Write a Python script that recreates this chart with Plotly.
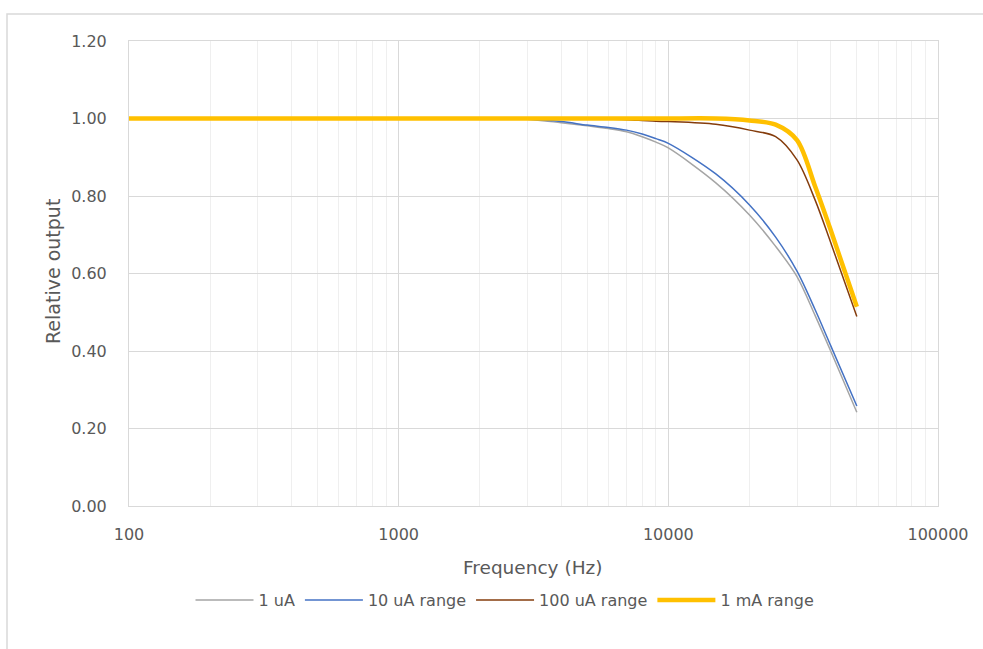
import plotly.graph_objects as go

freq = [100, 200, 500, 1000, 2000, 3000, 4000, 5000, 6000, 7000, 8000, 9000, 10000,
        15000, 20000, 25000, 30000, 35000, 40000, 50000]
ua1 = [1, 1, 1, 1, 1, 0.998, 0.989, 0.981, 0.974, 0.966, 0.953, 0.939, 0.924,
       0.834, 0.751, 0.670, 0.592, 0.492, 0.400, 0.242]
ua10 = [1, 1, 1, 1, 1, 0.998, 0.992, 0.983, 0.977, 0.970, 0.960, 0.948, 0.936,
        0.857, 0.777, 0.694, 0.606, 0.507, 0.414, 0.258]
ua100 = [1, 1, 1, 1, 1, 1, 1, 0.999, 0.998, 0.997, 0.995, 0.993, 0.992,
         0.985, 0.970, 0.953, 0.893, 0.790, 0.680, 0.489]
ma1 = [1, 1, 1, 1, 1, 1, 1, 1, 1, 1, 1, 1, 1,
       1.0, 0.995, 0.984, 0.944, 0.825, 0.712, 0.514]

series_names = ["1 uA", "10 uA range", "100 uA range", "1 mA range"]
x_tickvals = [100, 1000, 10000, 100000]
x_ticktext = ["100", "1000", "10000", "100000"]
y_tickvals = [0, 0.2, 0.4, 0.6, 0.8, 1.0, 1.2]

FONT = "DejaVu Sans"
TXT = "#595959"

fig = go.Figure()
styles = [("#A5A5A5", 1.5), ("#4472C4", 1.5), ("#843C0C", 1.5), ("#FFC000", 4.5)]
for name, ys, (c, w) in zip(series_names, [ua1, ua10, ua100, ma1], styles):
    fig.add_trace(go.Scatter(x=freq, y=ys, name=name, mode="lines",
                             line=dict(color=c, width=w, shape="spline", smoothing=0.9)))

L, R, T, B = 129, 938, 41, 506
W, H = 983, 649

fig.update_layout(
    width=W, height=H,
    margin=dict(l=L, r=W - R, t=T, b=H - B, pad=0),
    paper_bgcolor="white", plot_bgcolor="white",
    font=dict(family=FONT, size=16, color=TXT),
    showlegend=True,
    legend=dict(orientation="h", x=(505 - L) / (R - L), xanchor="center",
                y=(B - 600) / (B - T), yanchor="middle", itemwidth=58,
                font=dict(family=FONT, size=16, color=TXT), traceorder="normal"),
    xaxis=dict(type="log", range=[2, 5], tickvals=x_tickvals, ticktext=x_ticktext,
               showgrid=True, gridcolor="#D9D9D9", gridwidth=1,
               minor=dict(showgrid=True, gridcolor="#EFEFEF", gridwidth=1, dtick="D1", ticks=""),
               ticks="outside", ticklen=14, tickcolor="rgba(0,0,0,0)",
               showline=True, linecolor="#D9D9D9", mirror=True, zeroline=False,
               tickfont=dict(family=FONT, size=16, color=TXT)),
    yaxis=dict(range=[0, 1.2], tickvals=y_tickvals, tickformat=".2f",
               showgrid=True, gridcolor="#D9D9D9", gridwidth=1,
               ticks="outside", ticklen=18, tickcolor="rgba(0,0,0,0)",
               showline=True, linecolor="#D9D9D9", mirror=True, zeroline=False,
               tickfont=dict(family=FONT, size=16, color=TXT)),
    annotations=[
        dict(text="Frequency (Hz)", xref="paper", yref="paper", x=(533 - L) / (R - L),
             y=(B - 567) / (B - T), xanchor="center", yanchor="middle", showarrow=False,
             font=dict(family=FONT, size=18.5, color=TXT)),
        dict(text="Relative output", xref="paper", yref="paper", x=(53 - L) / (R - L),
             y=(B - 272) / (B - T), xanchor="center", yanchor="middle", showarrow=False,
             textangle=-90, font=dict(family=FONT, size=19, color=TXT)),
    ],
    shapes=[dict(type="rect", xref="paper", yref="paper",
                 x0=(7 - L) / (R - L), x1=(990 - L) / (R - L),
                 y0=(B - 660) / (B - T), y1=(B - 14) / (B - T),
                 line=dict(color="#D9D9D9", width=1.5), fillcolor="rgba(0,0,0,0)", layer="below")],
)

fig.write_html("out.html")
